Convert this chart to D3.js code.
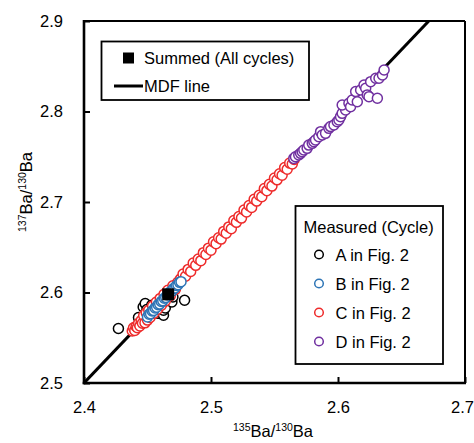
<!DOCTYPE html>
<html>
<head>
<meta charset="utf-8">
<script src="https://cdn.jsdelivr.net/npm/d3@7"></script>
<style>
  html, body { margin: 0; padding: 0; background: #fff; }
  svg { display: block; font-family: "Liberation Sans", Arial, sans-serif; }
</style>
</head>
<body>
<svg id="chart" width="474" height="443"></svg>
<script>
// Axis ticks
const xTicks = [2.4, 2.5, 2.6, 2.7];
const yTicks = [2.5, 2.6, 2.7, 2.8, 2.9];
const xTickLabels = ["2.4", "2.5", "2.6", "2.7"];
const yTickLabels = ["2.5", "2.6", "2.7", "2.8", "2.9"];

// Mass-dependent fractionation line (endpoints)
const mdfX = [2.4, 2.6715];
const mdfY = [2.5, 2.9];

// Summed result over all cycles
const summedX = [2.4663];
const summedY = [2.598];

// Cycle A (black)
const aX = [2.4271, 2.4429, 2.4466, 2.4482, 2.4495, 2.4534, 2.4585, 2.4626, 2.4626, 2.4640, 2.4692, 2.4700, 2.4792];
const aY = [2.5602, 2.5723, 2.5840, 2.5878, 2.5812, 2.5860, 2.5770, 2.5749, 2.5805, 2.5830, 2.5896, 2.5950, 2.5915];

// Cycle B (blue)
const bX = [2.4500, 2.4512, 2.4524, 2.4536, 2.4548, 2.4560, 2.4572, 2.4584, 2.4596, 2.4608, 2.4620, 2.4632,
            2.4644, 2.4656, 2.4668, 2.4680, 2.4692, 2.4704, 2.4716, 2.4728, 2.4740, 2.4752, 2.4764];
const bY = [2.5730, 2.5760, 2.5765, 2.5795, 2.5800, 2.5830, 2.5838, 2.5866, 2.5872, 2.5900, 2.5908, 2.5937,
            2.5944, 2.5972, 2.5980, 2.6008, 2.6015, 2.6043, 2.6050, 2.6078, 2.6085, 2.6112, 2.6120];

// Cycle C (red)
const cX = [2.438, 2.439, 2.440, 2.441, 2.442, 2.443, 2.444, 2.445, 2.446, 2.447, 2.448, 2.449, 2.450, 2.451,
            2.452, 2.454, 2.455, 2.457, 2.458, 2.460, 2.461, 2.463, 2.464, 2.466, 2.468, 2.470, 2.472, 2.474,
            2.476, 2.478, 2.480, 2.482, 2.484, 2.486, 2.488, 2.490, 2.492, 2.494, 2.496, 2.498, 2.500, 2.502,
            2.504, 2.506, 2.508, 2.510, 2.512, 2.514, 2.516, 2.518, 2.520, 2.522, 2.524, 2.526, 2.528, 2.530,
            2.532, 2.534, 2.536, 2.538, 2.540, 2.542, 2.544, 2.546, 2.548, 2.550, 2.552, 2.554, 2.556, 2.558,
            2.560, 2.562, 2.564, 2.5655];
const cY = [2.5575, 2.5610, 2.5580, 2.5625, 2.5610, 2.5660, 2.5630, 2.5690, 2.5660, 2.5745, 2.5665, 2.5775,
            2.5695, 2.5805, 2.5725, 2.5850, 2.5770, 2.5895, 2.5815, 2.5935, 2.5860, 2.5980, 2.5905, 2.6025,
            2.5965, 2.6075, 2.6035, 2.6115, 2.6150, 2.6205, 2.6180, 2.6255, 2.6232, 2.6325, 2.6300, 2.6370,
            2.6352, 2.6440, 2.6420, 2.6490, 2.6468, 2.6560, 2.6540, 2.6605, 2.6590, 2.6675, 2.6655, 2.6725,
            2.6705, 2.6795, 2.6775, 2.6840, 2.6822, 2.6912, 2.6890, 2.6960, 2.6940, 2.7030, 2.7010, 2.7075,
            2.7058, 2.7148, 2.7125, 2.7195, 2.7176, 2.7265, 2.7245, 2.7312, 2.7295, 2.7380, 2.7362, 2.7430,
            2.7420, 2.7470];

// Cycle D (purple)
const dX = [2.5652, 2.5665, 2.5691, 2.5705, 2.5718, 2.5731, 2.5757, 2.5770, 2.5797, 2.5810, 2.5823, 2.5849,
            2.5863, 2.5876, 2.5902, 2.5928, 2.5941, 2.5968, 2.5994, 2.6007, 2.6020, 2.6033, 2.6060, 2.6033,
            2.6086, 2.6099, 2.6112, 2.6139, 2.6152, 2.6178, 2.6205, 2.6218, 2.6230, 2.6244, 2.6257, 2.6297,
            2.6310, 2.6323, 2.6350, 2.6363];
const dY = [2.7482, 2.7500, 2.7520, 2.7538, 2.7555, 2.7574, 2.7593, 2.7629, 2.7648, 2.7666, 2.7685, 2.7721,
            2.7777, 2.7740, 2.7759, 2.7814, 2.7833, 2.7851, 2.7887, 2.7906, 2.7943, 2.7980, 2.8017, 2.8072,
            2.8091, 2.8053, 2.8127, 2.8220, 2.8108, 2.8238, 2.8293, 2.8257, 2.8183, 2.8164, 2.8330, 2.8367,
            2.8146, 2.8367, 2.8404, 2.8459];

const seriesNames = ["A in Fig. 2", "B in Fig. 2", "C in Fig. 2", "D in Fig. 2"];
const seriesColors = ["#000000", "#2e75b6", "#ee2b2b", "#7030a0"];

const svg = d3.select("#chart");
const FONT = 16.5;
const plot = { left: 84, right: 465, top: 21, bottom: 383 };

const x = d3.scaleLinear().domain([2.4, 2.7]).range([plot.left, plot.right]);
const y = d3.scaleLinear().domain([2.5, 2.9]).range([plot.bottom, plot.top]);

const zip = (xs, ys) => xs.map((v, i) => [v, ys[i]]);

// Plot clip
svg.append("defs").append("clipPath").attr("id", "clip")
  .append("rect").attr("x", plot.left).attr("y", plot.top)
  .attr("width", plot.right - plot.left).attr("height", plot.bottom - plot.top);

// Axes with inward ticks
const xAxis = d3.axisBottom(x).tickValues(xTicks).tickSize(-6).tickPadding(18)
  .tickFormat((d, i) => xTickLabels[i]);
const yAxis = d3.axisLeft(y).tickValues(yTicks).tickSize(-6).tickPadding(21)
  .tickFormat((d, i) => yTickLabels[i]);

const gx = svg.append("g").attr("transform", `translate(0,${plot.bottom})`).call(xAxis);
const gy = svg.append("g").attr("transform", `translate(${plot.left},0)`).call(yAxis);
[gx, gy].forEach(g => {
  g.select(".domain").remove();
  g.selectAll(".tick line").attr("stroke", "#000").attr("stroke-width", 2);
  g.selectAll(".tick text").attr("fill", "#000").attr("font-size", FONT)
    .attr("font-family", "Liberation Sans, Arial, sans-serif");
});
// keep the last x label inside the canvas
gx.selectAll(".tick text").filter((d, i) => i === xTicks.length - 1).attr("dx", -3);

// MDF line
const lineGen = d3.line().x(d => x(d[0])).y(d => y(d[1]));
svg.append("path").datum(zip(mdfX, mdfY))
  .attr("clip-path", "url(#clip)")
  .attr("d", lineGen).attr("fill", "none").attr("stroke", "#000").attr("stroke-width", 3);

// Measured cycles (draw order: A, C, D, B)
const R = 5;
function drawSeries(xs, ys, color) {
  svg.append("g").selectAll("circle").data(zip(xs, ys)).join("circle")
    .attr("cx", d => x(d[0])).attr("cy", d => y(d[1])).attr("r", R)
    .attr("fill", "#fff").attr("stroke", color).attr("stroke-width", 1.5);
}
drawSeries(aX, aY, seriesColors[0]);
drawSeries(cX, cY, seriesColors[2]);
drawSeries(dX, dY, seriesColors[3]);
drawSeries(bX, bY, seriesColors[1]);

// Summed point
const SQ = 12;
svg.append("g").selectAll("rect").data(zip(summedX, summedY)).join("rect")
  .attr("x", d => x(d[0]) - SQ / 2).attr("y", d => y(d[1]) - SQ / 2)
  .attr("width", SQ).attr("height", SQ).attr("fill", "#000");

// Plot frame
const frame = svg.append("g").attr("stroke", "#000").attr("fill", "none");
frame.append("line").attr("x1", plot.left).attr("x2", plot.right).attr("y1", plot.top).attr("y2", plot.top).attr("stroke-width", 2);
frame.append("line").attr("x1", plot.right).attr("x2", plot.right).attr("y1", plot.top).attr("y2", plot.bottom).attr("stroke-width", 2);
frame.append("line").attr("x1", plot.left).attr("x2", plot.left).attr("y1", plot.top - 1).attr("y2", plot.bottom + 1.25).attr("stroke-width", 2.6);
frame.append("line").attr("x1", plot.left - 1.3).attr("x2", plot.right + 1).attr("y1", plot.bottom).attr("y2", plot.bottom).attr("stroke-width", 2.6);

// Axis titles with superscript mass numbers
function isotopeTitle(g, top, bottom) {
  const t = g.append("text").attr("font-size", FONT).attr("fill", "#000").attr("text-anchor", "middle");
  t.append("tspan").attr("font-size", 10.5).attr("dy", -6).text(top);
  t.append("tspan").attr("dy", 6).text("Ba/");
  t.append("tspan").attr("font-size", 10.5).attr("dy", -6).text(bottom);
  t.append("tspan").attr("dy", 6).text("Ba");
  return t;
}
isotopeTitle(svg.append("g").attr("transform", "translate(273,437)"), "135", "130");
isotopeTitle(svg.append("g").attr("transform", "translate(32,192) rotate(-90)"), "137", "130");

// Legend: summed point and MDF line
const leg1 = svg.append("g");
leg1.append("rect").attr("x", 101.5).attr("y", 41.5).attr("width", 207.5).attr("height", 58.5)
  .attr("fill", "#fff").attr("stroke", "#000").attr("stroke-width", 1.8);
leg1.append("rect").attr("x", 123).attr("y", 52.5).attr("width", 11).attr("height", 11).attr("fill", "#000");
leg1.append("text").attr("x", 144).attr("y", 63.5).attr("font-size", FONT).text("Summed (All cycles)");
leg1.append("line").attr("x1", 114).attr("x2", 143).attr("y1", 86).attr("y2", 86)
  .attr("stroke", "#000").attr("stroke-width", 3);
leg1.append("text").attr("x", 144).attr("y", 92).attr("font-size", FONT).text("MDF line");

// Legend: measured cycles
const leg2 = svg.append("g");
leg2.append("rect").attr("x", 295.5).attr("y", 206).attr("width", 147.5).attr("height", 158)
  .attr("fill", "#fff").attr("stroke", "#000").attr("stroke-width", 1.8);
leg2.append("text").attr("x", 303.5).attr("y", 232.5).attr("font-size", FONT).text("Measured (Cycle)");
const entryY = [254.5, 283.5, 312.5, 341.5];
seriesNames.forEach((name, i) => {
  leg2.append("circle").attr("cx", 319).attr("cy", entryY[i]).attr("r", 4.3)
    .attr("fill", "#fff").attr("stroke", seriesColors[i]).attr("stroke-width", 1.5);
  leg2.append("text").attr("x", 335.5).attr("y", entryY[i] + 6).attr("font-size", FONT).text(name);
});
</script>
</body>
</html>
